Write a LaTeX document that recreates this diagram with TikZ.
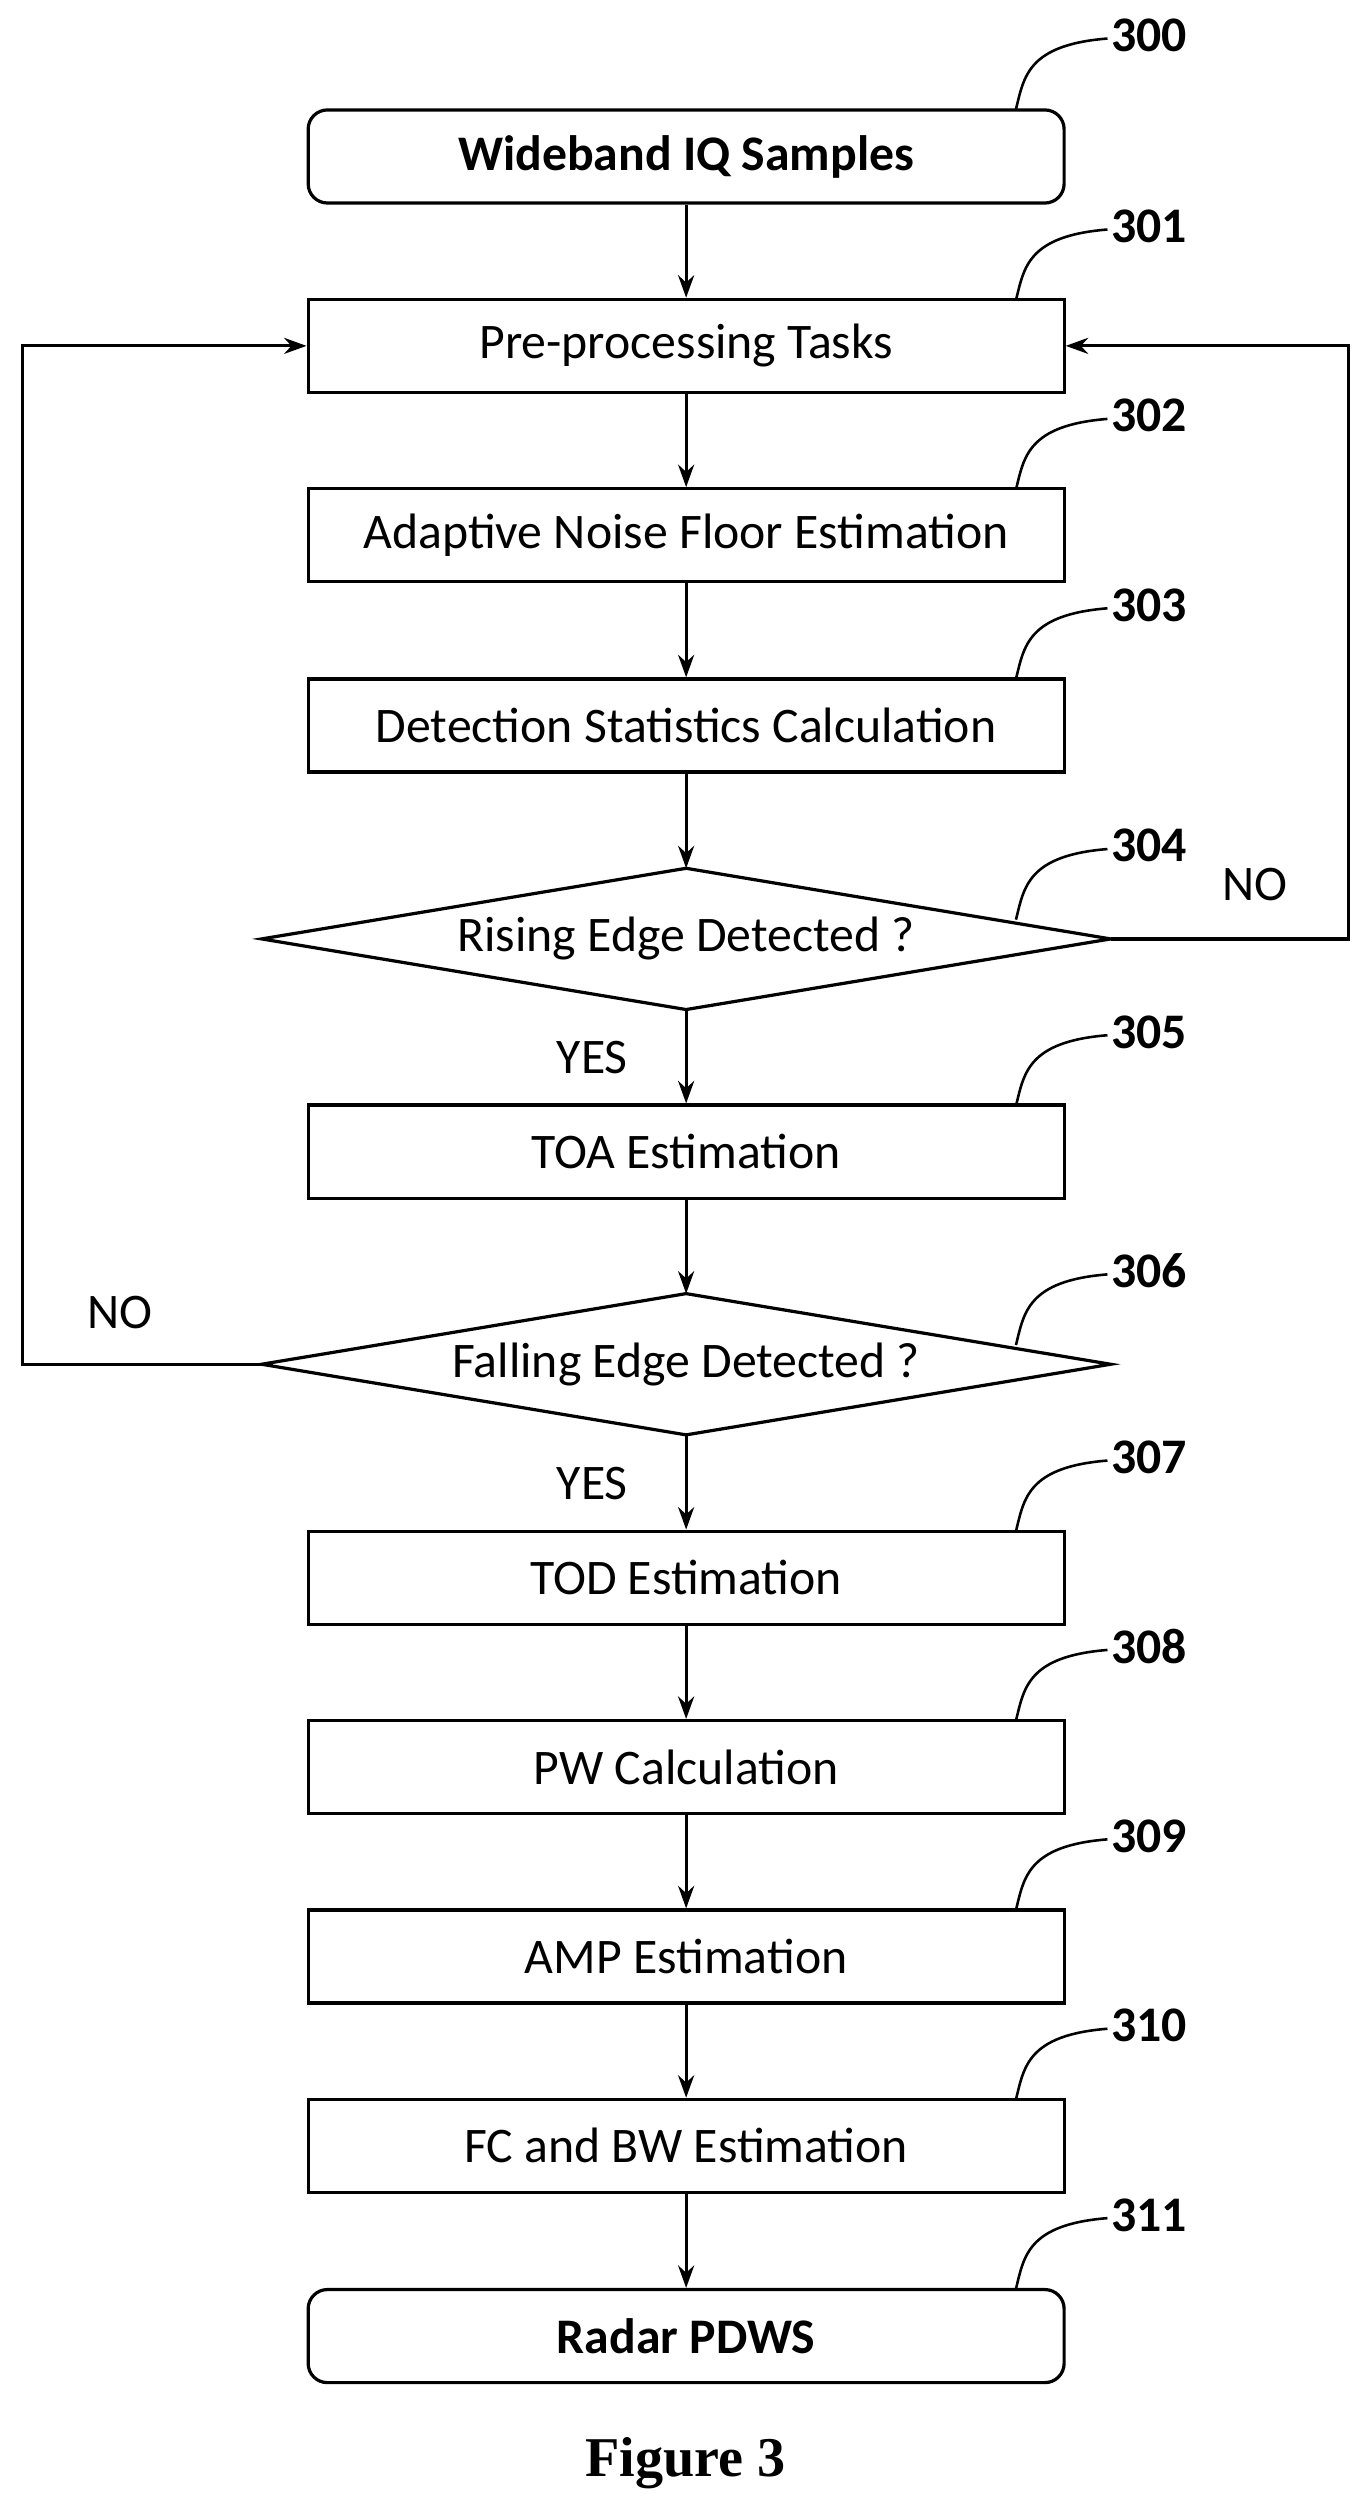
\documentclass[tikz,border=0pt]{standalone}
\usepackage{fontspec}
\setmainfont{Carlito}
\newfontfamily\fig{Liberation Serif}
\usetikzlibrary{arrows.meta}
\begin{document}
\begin{tikzpicture}[x=0.5pt,y=-0.5pt,
 txt/.style={font=\fontsize{15.5}{17}\selectfont},
 box/.style={draw,line width=1pt,minimum width=235.5pt,minimum height=29pt,inner sep=0pt,txt},
 rbox/.style={box,rounded corners=6pt,font=\fontsize{15.5}{17}\selectfont\bfseries},
 arr/.style={draw,line width=1pt,-{Stealth[length=7pt,width=5pt]}},
 lab/.style={font=\fontsize{15.5}{17}\selectfont\bfseries},
 lead/.style={line width=0.8pt}]
\useasboundingbox (0,0) rectangle (852,1562);
\node[rbox] (n300) at (427.5,97.5) {Wideband IQ Samples};
\node[box] (n301) at (427.5,215.5) {Pre-processing Tasks};
\node[box] (n302) at (427.5,333.5) {Adaptive Noise Floor Estimation};
\node[box] (n303) at (427.5,452) {Detection Statistics Calculation};
\coordinate (d4) at (427.5,585);
\draw[line width=1pt] (163,585) coordinate (d4l) -- (427.5,541) coordinate (d4t) -- (692,585) coordinate (d4r) -- (427.5,629) coordinate (d4b) -- cycle;
\node[txt] at (d4) {Rising Edge Detected ?};
\node[box] (n305) at (427.5,717.5) {TOA Estimation};
\draw[line width=1pt] (163,850) coordinate (d6l) -- (427.5,806) coordinate (d6t) -- (692,850) coordinate (d6r) -- (427.5,894) coordinate (d6b) -- cycle;
\node[txt] at (427.5,850) {Falling Edge Detected ?};
\node[box] (n307) at (427.5,983) {TOD Estimation};
\node[box] (n308) at (427.5,1101) {PW Calculation};
\node[box] (n309) at (427.5,1219) {AMP Estimation};
\node[box] (n310) at (427.5,1337) {FC and BW Estimation};
\node[rbox] (n311) at (427.5,1455.5) {Radar PDWS};
\node[font=\fig\fontsize{17.5}{19}\selectfont\bfseries] (cap) at (427,1535) {Figure 3};

\draw[arr] (n300) -- (n301);
\draw[arr] (n301) -- (n302);
\draw[arr] (n302) -- (n303);
\draw[arr] (n303) -- (d4t);
\draw[arr] (d4b) -- (n305);
\draw[arr] (n305) -- (d6t);
\draw[arr] (d6b) -- (n307);
\draw[arr] (n307) -- (n308);
\draw[arr] (n308) -- (n309);
\draw[arr] (n309) -- (n310);
\draw[arr] (n310) -- (n311);
\draw[arr] (d4r) -- (840,585) -- (840,215.5) -- (n301.east);
\draw[arr] (d6l) -- (14,850) -- (14,215.5) -- (n301.west);
\node[txt] (no1) at (782,551) {NO};
\node[txt] (no2) at (75,818) {NO};
\node[txt] (y1) at (369,659) {YES};
\node[txt] (y2) at (369,924) {YES};

\foreach \n/\y in {300/68,301/187,302/305,303/423,305/689,307/954,308/1072,309/1190,310/1308,311/1426,304/573,306/838}{
  \coordinate (s\n) at (633,\y);
  \draw[lead] (s\n) .. controls (638,\y-20) and (640,\y-40) .. (690,\y-44);
  \node[lab] (l\n) at (716,\y-46) {\n};
}
\end{tikzpicture}
\end{document}
